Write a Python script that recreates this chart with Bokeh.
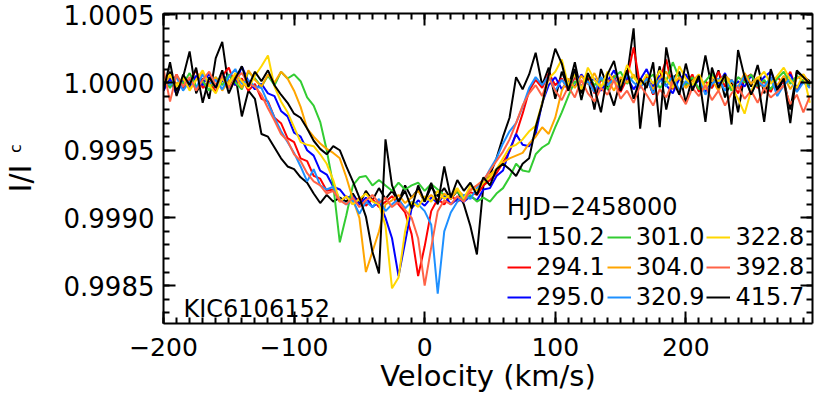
import numpy as np
from bokeh.plotting import figure
from bokeh.models import (Range1d, LinearAxis, FixedTicker, Label, Legend, LegendItem,
                          NumeralTickFormatter)
from bokeh.embed import file_html
from bokeh.resources import INLINE

# Velocity grid (km/s)
velocity = list(range(-200, 300, 5))

# Deviations from the continuum, in parts per million (I/Ic = 1 + ppm*1e-6)
hjd_150_2 = [-20, 80, -60, 40, 230, -80, 30, -120, 180, 300,
             -40, 60, -250, -60, -120, -380, -400, -480, -560, -620,
             -640, -700, -740, -820, -890, -830, -880, -850, -880, -820,
             -900, -800, -870, -780, -860, -800, -880, -760, -850, -790,
             -880, -770, -840, -780, -860, -800, -900, -1060, -1270, -760,
             -680, -560, -400, -260, 40, -50, 60, 220, -20, 110,
             -120, 80, -40, 150, -80, 40, -200, 100, -30, -170,
             20, 50, 400, -340, 60, -90, 120, -200, 30, 80,
             -150, 40, -60, 200, -40, 90, -110, 20, -220, 60,
             -30, 130, -80, 40, -60, 20, -200, 80, 40, 10]
hjd_294_1 = [40, -30, 60, -50, 20, 90, -40, 10, -70, 50,
             110, -20, 30, -60, -10, -120, -140, -260, -300, -410,
             -440, -560, -580, -690, -710, -800, -790, -880, -840, -900,
             -850, -910, -860, -920, -880, -840, -900, -960, -1120, -1430,
             -1210, -950, -860, -900, -830, -880, -850, -810, -830, -760,
             -720, -670, -590, -510, -380, -230, -60, 20, -40, 70,
             -20, 30, -60, 40, -30, 60, -80, 20, -10, 50,
             -70, 30, 260, -20, 40, -90, 20, 170, -50, 30,
             -20, 60, -70, 10, -40, 80, -30, 20, -80, 30,
             60, -40, 10, -70, 40, -10, 80, -60, 20, -30]
hjd_295_0 = [-60, 30, -90, 20, -40, 50, -20, 70, -30, 10,
             60, -20, 120, 10, -50, -10, -80, -100, -210, -250,
             -370, -400, -500, -540, -650, -680, -770, -790, -850, -840,
             -900, -850, -920, -880, -1000, -1150, -1430, -1180, -930, -870,
             -910, -850, -890, -830, -900, -860, -880, -840, -870, -790,
             -780, -690, -650, -500, -380, -460, -470, -380, -150, -20,
             40, -50, 20, -30, 60, -10, 30, -60, 10, 90,
             -20, 40, -50, 20, 100, -30, 50, -20, -80, 30,
             60, -40, 20, -70, 40, -10, 70, -50, 10, -30,
             50, -20, 40, 80, -30, 20, 60, -40, 10, -20]
hjd_301_0 = [20, -40, 50, -10, 70, -30, 10, -60, 40, -20,
             60, 0, -50, 80, 30, -30, 50, -20, 80, 30,
             60, 10, -110, -170, -290, -500, -760, -1180, -980, -760,
             -700, -690, -760, -720, -760, -800, -740, -790, -760, -740,
             -800, -750, -790, -830, -850, -800, -870, -830, -880, -850,
             -880, -820, -780, -700, -600, -650, -660, -530, -480, -450,
             -330, -220, -100, 10, -40, 60, -20, 30, -50, 40,
             80, -10, 50, -30, 20, 60, -40, 10, 150, 30,
             -20, 40, -50, 10, 70, -30, 20, -60, 40, 0,
             60, -30, 20, -50, 30, 80, -10, 50, 10, -20]
hjd_304_0 = [-20, 50, -10, 30, -50, 20, 70, -30, 40, -60,
             10, 50, -40, 90, 20, -30, 60, 0, 80, 30,
             -60, -180, -340, -400, -450, -490, -520, -560, -700, -860,
             -1000, -1400, -1250, -1100, -900, -870, -830, -890, -850, -800,
             -870, -830, -880, -820, -860, -790, -840, -800, -760, -720,
             -680, -640, -590, -560, -540, -520, -450, -400, -330, -380,
             -260, -60, 30, -40, 50, -10, 70, -30, 20, -60,
             40, 0, 60, -30, 20, -50, 30, 80, -20, 40,
             -40, 10, 60, -30, 20, -60, 50, 10, -30, 70,
             -10, 40, -40, 20, -20, 50, -50, 30, 60, -10]
hjd_320_9 = [30, -20, 40, -60, 10, -40, 60, -10, 20, -50,
             40, 100, -10, 20, -30, -40, -150, -260, -360, -440,
             -520, -620, -730, -640, -760, -790, -770, -860, -900, -870,
             -970, -880, -920, -860, -950, -900, -860, -930, -880, -900,
             -950, -1050, -1560, -1100, -960, -880, -830, -860, -780, -730,
             -640, -560, -450, -360, -300, -180, -40, 40, -20, 50,
             -60, 20, -40, 60, -30, 10, -70, 40, -20, 30,
             -50, 60, 0, -40, 30, -80, 20, -30, 50, -60,
             10, -20, 40, -90, -10, 30, -60, 20, -40, 50,
             -80, 10, -30, 40, -100, -20, 30, -70, 0, -40]
hjd_322_8 = [10, 60, -30, 40, -60, 20, 90, -20, -80, 30,
             -20, 70, 10, -40, 50, 120, 200, -30, -140, -220,
             -330, -440, -460, -470, -530, -600, -720, -880, -840, -900,
             -860, -820, -880, -900, -1060, -1520, -1440, -1100, -880, -920,
             -840, -880, -800, -860, -830, -780, -860, -760, -800, -740,
             -700, -640, -560, -480, -460, -420, -360, -320, -150, 30,
             80, 170, -20, 60, -50, 110, 20, -40, 80, 10,
             -30, 130, 40, -20, 60, -10, 90, 20, -40, 120,
             30, -20, 60, -50, 40, 10, 50, -30, -120, -230,
             -60, 30, 80, -10, 50, 110, 20, -40, 60, -150]
hjd_392_8 = [100, -140, 60, -30, 40, -60, 20, 80, -20, 50,
             -40, 30, 70, -10, -30, -90, -190, -280, -380, -430,
             -530, -580, -670, -730, -760, -820, -800, -870, -900, -850,
             -920, -870, -830, -890, -850, -920, -880, -940, -1000, -1150,
             -1500, -1220, -950, -870, -900, -840, -880, -790, -760, -720,
             -650, -580, -510, -420, -300, -170, -80, -20, -100, 40,
             -60, -130, -30, -110, 20, -80, -140, -40, -90, 20,
             -120, -60, -150, -20, -90, -170, -50, -110, 10, -80,
             -160, -40, -100, -20, -130, -60, -170, -80, -30, -120,
             -60, -150, -40, -110, -70, -20, -160, -90, -220, -100]
hjd_415_7 = [-60, 150, -100, 60, -20, 110, -150, 40, -40, 90,
             -80, 30, 120, -30, 80, 10, 90, -20, -90, -150,
             -230, -260, -340, -430, -490, -530, -470, -500, -620, -730,
             -850, -990, -1250, -1410, -420, -760, -880, -800, -930, -760,
             -880, -740, -900, -620, -850, -720, -800, -740, -830, -700,
             -760, -640, -600, -640, -690, -600, -560, -330, -160, 60,
             250, 140, -60, 100, -130, 70, -40, -220, 60, 160,
             -60, 90, -120, 30, -40, 150, -330, 260, 20, -90,
             140, -60, 50, -290, 110, -40, 60, -310, 240, 40,
             -90, 20, -290, 100, -50, 30, -300, 90, 40, -10]

hjd_labels = ["150.2", "294.1", "295.0", "301.0", "304.0",
              "320.9", "322.8", "392.8", "415.7"]
series = [hjd_150_2, hjd_294_1, hjd_295_0, hjd_301_0, hjd_304_0,
          hjd_320_9, hjd_322_8, hjd_392_8, hjd_415_7]
colors = ["#000000", "#ff0000", "#0000ff", "#33cc33", "#ffa500",
          "#1e90ff", "#ffd700", "#ff6347", "#000000"]

x_major = [-200, -100, 0, 100, 200]
x_minor = list(range(-200, 300, 10))
y_major = [0.9985, 0.9990, 0.9995, 1.0000, 1.0005]
y_minor = [0.9983 + 0.0001 * i for i in range(23)]

FONT = "DejaVu Sans"

p = figure(width=814, height=399, output_backend="svg", toolbar_location=None,
           x_range=Range1d(-200, 297), y_range=Range1d(0.99822, 1.00051),
           min_border_left=163, min_border_right=2, min_border_top=13,
           min_border_bottom=76, outline_line_color=None)
p.xgrid.visible = False
p.ygrid.visible = False

renderers = []
for vals, col in zip(series, colors):
    y = 1.0 + np.array(vals) * 1e-6
    r = p.line(velocity, y, line_color=col, line_width=2)
    renderers.append(r)


def style_axis(ax, show_labels):
    ax.axis_line_width = 2
    ax.axis_line_color = "black"
    ax.major_tick_in = 12
    ax.major_tick_out = 0
    ax.minor_tick_in = 6
    ax.minor_tick_out = 0
    ax.major_tick_line_width = 2
    ax.minor_tick_line_width = 2
    ax.major_tick_line_color = "black"
    ax.minor_tick_line_color = "black"
    if show_labels:
        ax.major_label_text_font = FONT
        ax.major_label_text_font_size = "26px"
        ax.major_label_text_color = "black"
    else:
        ax.major_label_text_font_size = "0px"
        ax.major_label_text_color = None
        ax.major_label_standoff = 0


xb = p.xaxis[0]
xb.ticker = FixedTicker(ticks=x_major, minor_ticks=x_minor)
style_axis(xb, True)
xb.major_label_text_font_size = "25px"
xb.major_label_standoff = 14
xb.major_label_overrides = {-200: "\u2212200", -100: "\u2212100"}
xb.axis_label = "Velocity (km/s)"
xb.axis_label_text_font = FONT
xb.axis_label_text_font_size = "29px"
xb.axis_label_text_font_style = "normal"
xb.axis_label_text_color = "black"
xb.axis_label_standoff = 0

yl = p.yaxis[0]
yl.ticker = FixedTicker(ticks=y_major, minor_ticks=y_minor)
yl.formatter = NumeralTickFormatter(format="0.0000")
style_axis(yl, True)
yl.major_label_standoff = 9

xt = LinearAxis(ticker=FixedTicker(ticks=x_major, minor_ticks=x_minor))
style_axis(xt, False)
p.add_layout(xt, "above")

yr = LinearAxis(ticker=FixedTicker(ticks=y_major, minor_ticks=y_minor))
style_axis(yr, False)
p.add_layout(yr, "right")

# y-axis title: I/I with subscript c (placed in the left side panel)
p.add_layout(Label(x=-5, y=145, x_units="screen", y_units="screen", text="I/I",
                   angle=90, angle_units="deg", text_align="center",
                   text_baseline="middle", text_font=FONT, text_font_size="30px",
                   text_color="black"),
             "left")
p.add_layout(Label(x=9, y=175, x_units="screen", y_units="screen", text="c",
                   angle=90, angle_units="deg", text_align="center",
                   text_baseline="middle", text_font=FONT, text_font_size="16px",
                   text_color="black"),
             "left")

p.add_layout(Label(x=20, y=15, x_units="screen", y_units="screen", text="KIC6106152",
                   text_font=FONT, text_font_size="24px", text_baseline="alphabetic",
                   text_color="black"))

items = [LegendItem(label=lab, renderers=[r]) for lab, r in zip(hjd_labels, renderers)]
legend = Legend(items=items, location=(344, 12), orientation="vertical", nrows=3,
                title="HJD\u22122458000", title_text_font=FONT, title_text_font_size="24px",
                title_text_font_style="normal", title_text_color="black", title_standoff=2,
                label_text_font=FONT, label_text_font_size="24px", label_text_color="black",
                glyph_width=24, glyph_height=26, label_height=26, label_standoff=5,
                spacing=2, padding=0, margin=0, border_line_color=None,
                background_fill_alpha=0)
p.add_layout(legend)

open("out.html", "w").write(file_html(p, INLINE))
